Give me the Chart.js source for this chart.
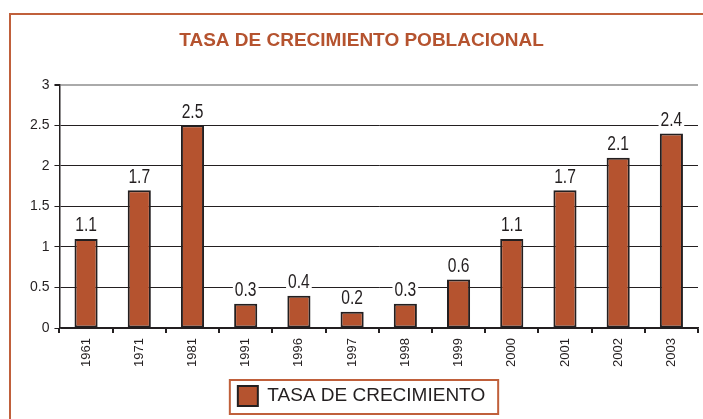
<!DOCTYPE html>
<html>
<head>
<meta charset="utf-8">
<script src="https://cdn.jsdelivr.net/npm/chart.js@4/dist/chart.umd.min.js"></script>
<style>
  html, body { margin: 0; padding: 0; background: #fff; }
  #wrap { width: 703px; height: 419px; position: relative; }
</style>
</head>
<body>
<div id="wrap"><canvas id="growthChart"></canvas></div>
<script>
// data
const years = ['1961', '1971', '1981', '1991', '1996', '1997', '1998', '1999', '2000', '2001', '2002', '2003'];
const growthRate = [1.1, 1.7, 2.5, 0.3, 0.4, 0.2, 0.3, 0.6, 1.1, 1.7, 2.1, 2.4];
const yTicks = [0, 0.5, 1, 1.5, 2, 2.5, 3];

const ORANGE = '#b5532f';
const INK = '#231f20';

// white page + orange frame, labels over bars, box around legend
const framePlugin = {
  id: 'frame',
  beforeDraw(chart) {
    const c = chart.ctx;
    c.save();
    c.fillStyle = '#fff';
    c.fillRect(0, 0, chart.width, chart.height);
    c.strokeStyle = '#c0603b';
    c.lineWidth = 2;
    c.strokeRect(10, 14, chart.width + 20, chart.height + 20);
    c.restore();
  },
  afterDatasetsDraw(chart) {
    const c = chart.ctx;
    const meta = chart.getDatasetMeta(0);
    c.save();
    c.font = '20px "Liberation Sans", Arial, sans-serif';
    c.textAlign = 'center';
    c.textBaseline = 'bottom';
    meta.data.forEach((bar, i) => {
      const txt = String(growthRate[i]);
      const w = c.measureText(txt).width * 0.78;
      c.fillStyle = '#fff';
      c.fillRect(bar.x - w / 2 - 2, bar.y - 23, w + 4, 19);
      // squeeze the text to look like the narrow face of the original
      c.save();
      c.translate(bar.x, bar.y - 3);
      c.scale(0.78, 1);
      c.fillStyle = INK;
      c.fillText(txt, 0, 0);
      c.restore();
    });
    c.restore();
  },
  afterDraw(chart) {
    const lg = chart.legend;
    if (!lg || !lg.legendHitBoxes.length) return;
    const hb = lg.legendHitBoxes[0];
    const c = chart.ctx;
    c.save();
    c.strokeStyle = '#c0603b';
    c.lineWidth = 2;
    c.strokeRect(hb.left - 8, hb.top - 6, hb.width + 21, hb.height + 14);
    c.restore();
  }
};

new Chart(document.getElementById('growthChart'), {
  type: 'bar',
  data: {
    labels: years,
    datasets: [{
      label: 'TASA DE CRECIMIENTO',
      data: growthRate,
      backgroundColor: ORANGE,
      borderColor: INK,
      borderWidth: 2,
      borderSkipped: false,
      categoryPercentage: 0.82,
      barPercentage: 0.53
    }]
  },
  options: {
    responsive: true,
    maintainAspectRatio: false,
    animation: false,
    layout: { padding: { left: 25, right: 5, top: 0, bottom: 3 } },
    plugins: {
      title: {
        display: true,
        text: 'TASA DE CRECIMIENTO POBLACIONAL',
        color: ORANGE,
        font: { family: '"Liberation Sans", Arial, sans-serif', size: 19, weight: 'bold' },
        padding: { top: 29, bottom: 33 }
      },
      legend: {
        position: 'bottom',
        labels: {
          color: INK,
          font: { family: '"Liberation Sans", Arial, sans-serif', size: 19 },
          boxWidth: 20,
          boxHeight: 20,
          padding: 10,
          useBorderRadius: false
        }
      },
      tooltip: { enabled: false }
    },
    scales: {
      x: {
        offset: true,
        afterFit: axis => { axis.height += 4; },
        border: { color: INK, width: 1.5 },
        grid: {
          offset: true,
          drawOnChartArea: true,
          color: ctx => ctx.index === years.length ? '#aaaaaa' : 'rgba(0,0,0,0)',
          lineWidth: 2,
          tickColor: INK,
          tickLength: 5
        },
        ticks: {
          color: INK,
          font: { family: '"Liberation Sans", Arial, sans-serif', size: 13 },
          minRotation: 90,
          maxRotation: 90,
          padding: 5
        }
      },
      y: {
        min: 0,
        max: 3,
        afterBuildTicks: axis => { axis.ticks = yTicks.map(v => ({ value: v })); },
        border: { color: INK, width: 1.5 },
        grid: {
          color: ctx => ctx.tick && ctx.tick.value === 3 ? '#aaaaaa' : INK,
          lineWidth: ctx => ctx.tick && ctx.tick.value === 3 ? 2 : 1,
          tickColor: INK,
          tickLength: 5
        },
        ticks: {
          color: INK,
          font: { family: '"Liberation Sans", Arial, sans-serif', size: 14 },
          padding: 5,
          callback: v => String(Number(v))
        }
      }
    }
  },
  plugins: [framePlugin]
});
</script>
</body>
</html>
